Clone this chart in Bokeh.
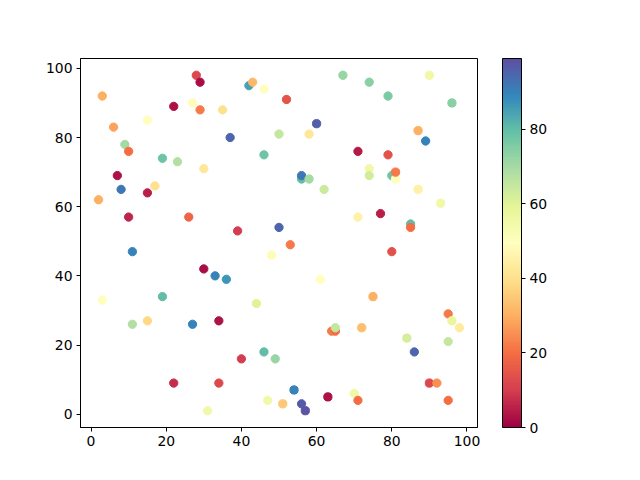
import numpy as np
from bokeh.plotting import figure
from bokeh.models import ColumnDataSource, LinearColorMapper, ColorBar, FixedTicker, Range1d
from bokeh.transform import transform
from bokeh.embed import file_html
from bokeh.resources import INLINE

xs = [3, 6, 9, 10, 7, 8, 2, 10, 11, 3, 11, 15, 19, 22, 15, 15, 17, 19, 22, 23,
      26, 27, 28, 29, 29, 30, 27, 30, 31, 33, 34, 34, 35, 36, 37, 39, 40, 42, 43, 44,
      46, 46, 46, 47, 48, 49, 50, 50, 51, 52, 53, 54, 56, 56, 58, 56, 57, 58, 60, 61,
      62, 63, 64, 65, 65, 67, 70, 71, 71, 71, 72, 74, 74, 74, 75, 77, 79, 79, 80, 81,
      81, 80, 84, 85, 85, 86, 87, 87, 89, 90, 90, 92, 93, 95, 95, 95, 96, 96, 98]
ys = [92, 83, 78, 76, 69, 65, 62, 57, 47, 33, 26, 27, 34, 9, 85, 64, 66, 74, 89, 73,
      57, 90, 98, 96, 88, 71, 26, 42, 1, 40, 27, 9, 88, 39, 80, 53, 16, 95, 96, 32,
      94, 75, 18, 4, 46, 16, 81, 54, 3, 91, 49, 7, 68, 69, 68, 3, 1, 81, 84, 39,
      65, 5, 24, 24, 25, 98, 6, 76, 57, 4, 25, 96, 71, 69, 34, 58, 92, 75, 69, 68,
      70, 47, 22, 55, 54, 18, 82, 65, 79, 98, 9, 9, 61, 29, 4, 21, 27, 90, 25]
cs = [30, 28, 70, 20, 3, 92, 30, 6, 90, 50, 68, 38, 80, 7, 50, 5, 40, 78, 3, 68,
      18, 48, 12, 2, 22, 42, 90, 2, 55, 90, 3, 12, 40, 87, 95, 10, 10, 85, 32, 60,
      50, 78, 80, 55, 48, 72, 65, 95, 35, 15, 22, 90, 80, 92, 70, 97, 98, 42, 96, 50,
      64, 3, 22, 20, 65, 72, 56, 4, 45, 20, 33, 74, 55, 63, 30, 5, 76, 14, 78, 50,
      22, 14, 62, 80, 20, 95, 30, 45, 90, 55, 12, 25, 55, 22, 20, 65, 58, 74, 43]
c_min, c_max = 0, 99

anchors = ["#9e0142", "#d53e4f", "#f46d43", "#fdae61", "#fee08b", "#ffffbf",
           "#e6f598", "#abdda4", "#66c2a5", "#3288bd", "#5e4fa2"]
rgb = np.array([[int(h[i:i + 2], 16) for i in (1, 3, 5)] for h in anchors], float)
t = np.linspace(0, 1, 256)
at = np.linspace(0, 1, len(anchors))
palette = ["#%02x%02x%02x" % tuple(int(round(np.interp(v, at, rgb[:, k]))) for k in range(3)) for v in t]

mapper = LinearColorMapper(palette=palette, low=c_min, high=c_max)
src = ColumnDataSource(dict(x=xs, y=ys, c=cs))

p = figure(output_backend="svg", toolbar_location=None,
           frame_width=397, frame_height=369,
           min_border_left=80, min_border_top=58, min_border_bottom=45, min_border_right=10,
           x_range=Range1d(-2.8, 102.8), y_range=Range1d(-3.85, 102.85))
p.scatter("x", "y", source=src, size=8.3,
          fill_color=transform("c", mapper), line_color=transform("c", mapper))

p.grid.visible = False
p.outline_line_color = "black"
p.outline_line_width = 1
p.background_fill_color = "white"
p.border_fill_color = "white"
for ax in (p.xaxis[0], p.yaxis[0]):
    ax.ticker = FixedTicker(ticks=[0, 20, 40, 60, 80, 100])
    ax.minor_tick_line_color = None
    ax.major_tick_in = 0
    ax.major_tick_out = 4
    ax.axis_line_color = "black"
    ax.major_tick_line_color = "black"
    ax.major_label_text_font = "DejaVu Sans"
    ax.major_label_text_font_size = "13.9px"
    ax.major_label_text_color = "black"
    ax.major_label_standoff = 4

cb = ColorBar(color_mapper=mapper, width=19, height=369, margin=25, padding=0,
              location=(25, 0),
              ticker=FixedTicker(ticks=[0, 20, 40, 60, 80]),
              major_tick_line_color="black", major_tick_in=0, major_tick_out=4,
              minor_tick_line_color=None,
              bar_line_color="black", bar_line_width=1,
              major_label_text_font="DejaVu Sans", major_label_text_font_size="13.9px",
              major_label_text_color="black", label_standoff=4,
              background_fill_color=None, border_line_color=None)
p.add_layout(cb, "right")

open("out.html", "w").write(file_html(p, INLINE))
